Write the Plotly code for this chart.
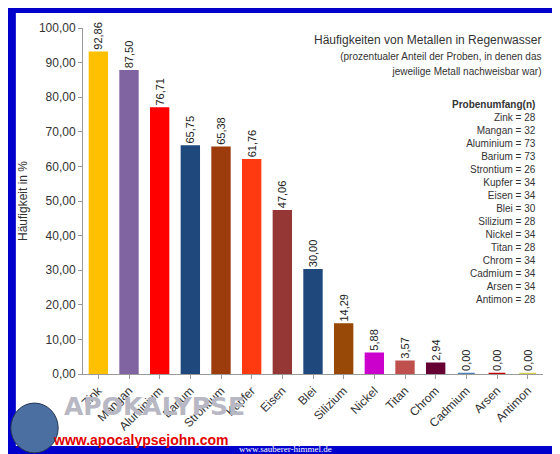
import plotly.graph_objects as go

metalle = ["Zink", "Mangan", "Aluminium", "Barium", "Strontium", "Kupfer", "Eisen", "Blei",
           "Silizium", "Nickel", "Titan", "Chrom", "Cadmium", "Arsen", "Antimon"]
haeufigkeit = [92.86, 87.50, 76.71, 65.75, 65.38, 61.76, 47.06, 30.00,
               14.29, 5.88, 3.57, 2.94, 0.00, 0.00, 0.00]
probenumfang = [28, 32, 73, 73, 26, 34, 34, 30, 28, 34, 28, 34, 34, 34, 28]
farben = ["#FFC000", "#8064A2", "#FF0000", "#1F497D", "#9C3B0C", "#FF3A10", "#953735", "#1F497D",
          "#984807", "#CC00CC", "#C0504D", "#660033", "#4F81BD", "#C00000", "#D4D44F"]

fig = go.Figure(go.Bar(
    x=metalle, y=haeufigkeit, marker_color=farben,
    marker_line_color=farben, marker_line_width=2.5, width=0.55,
    text=[f"{v:.2f}".replace(".", ",") for v in haeufigkeit],
    textposition="outside", textangle=-90, constraintext="none",
    textfont=dict(family="Liberation Sans", size=11, color="#222"),
    cliponaxis=False,
))

fig.update_layout(
    width=560, height=454, margin=dict(l=75, r=25, t=20, b=88),
    paper_bgcolor="#0000CC", plot_bgcolor="white", showlegend=False,
    font=dict(family="Liberation Sans", color="#333"),
    xaxis=dict(tickangle=-45, tickfont=dict(size=12), showline=True, linecolor="#999",
               ticks="outside", ticklen=4, tickcolor="#999", automargin=False),
    yaxis=dict(range=[0, 100], dtick=10, tickformat=".2f",
               title=dict(text="Häufigkeit in %", font=dict(size=12), standoff=8),
               tickfont=dict(size=12), showgrid=False, showline=True, linecolor="#999",
               ticks="outside", ticklen=4, tickcolor="#999", automargin=False),
    separators=",.",
)

# white inner panel
fig.add_shape(type="rect", xref="paper", yref="paper", x0=-0.146, x1=1.033, y0=-0.208, y1=1.043,
              fillcolor="white", line_width=0, layer="below")

fig.add_annotation(xref="paper", yref="paper", x=1.0, y=0.99, xanchor="right", yanchor="top",
                   align="right", showarrow=False, font=dict(size=12, color="#333"),
                   text="Häufigkeiten von Metallen in Regenwasser<br>"
                        "<span style='font-size:10px'>(prozentualer Anteil der Proben, in denen das<br>"
                        "jeweilige Metall nachweisbar war)</span>")
liste = "<b>Probenumfang(n)</b><br>" + "<br>".join(f"{m} = {n}" for m, n in zip(metalle, probenumfang))
fig.add_annotation(xref="paper", yref="paper", x=0.99, y=0.8, xanchor="right", yanchor="top",
                   align="right", showarrow=False, font=dict(size=10, color="#333"), text=liste)

# watermark
fig.add_shape(type="circle", xref="paper", yref="paper", x0=-0.157, x1=-0.054, y0=-0.228, y1=-0.084,
              fillcolor="#4A6FA0", line=dict(color="#223355", width=1))
fig.add_annotation(xref="paper", yref="paper", x=-0.045, y=-0.142, xanchor="left", showarrow=False,
                   text="<b>APOKALYPSE</b>", font=dict(family="DejaVu Sans", size=25, color="#B8B8C4"))
fig.add_annotation(xref="paper", yref="paper", x=-0.07, y=-0.22, xanchor="left", showarrow=False,
                   text="<b>www.apocalypsejohn.com</b>", font=dict(size=14, color="#E00000"))
fig.add_annotation(xref="paper", yref="paper", x=0.335, y=-0.238, xanchor="left", showarrow=False,
                   text="www.sauberer-himmel.de", font=dict(family="Liberation Serif", size=9, color="white"))

fig.write_html("out.html")
